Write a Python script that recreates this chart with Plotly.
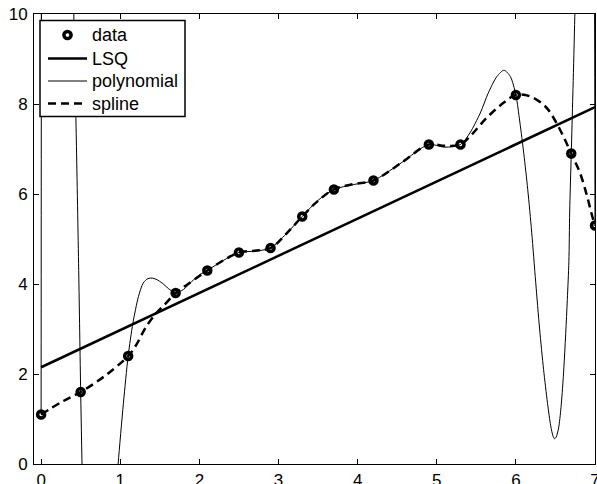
import plotly.graph_objects as go

# ---- data ----
x_data = [0.0, 0.5, 1.1, 1.7, 2.1, 2.5, 2.9, 3.3, 3.7, 4.2, 4.9, 5.3, 6.0, 6.7, 7.0]
y_data = [1.1, 1.6, 2.4, 3.8, 4.3, 4.7, 4.8, 5.5, 6.1, 6.3, 7.1, 7.1, 8.2, 6.9, 5.3]

lsq_x = [0.0, 7.0]
lsq_y = [2.15, 7.93]

poly_x = [0.0, 0.003, 0.01, 0.1, 0.25, 0.37, 0.40, 0.413, 0.445, 0.475, 0.50, 0.525, 0.56,
          0.7, 0.8, 0.9, 0.93, 0.973, 1.04, 1.10, 1.16, 1.23, 1.29, 1.35, 1.41, 1.47, 1.53,
          1.63, 1.70, 1.80, 1.90, 2.0, 2.1, 2.3, 2.5, 2.7, 2.9, 3.1, 3.3, 3.5, 3.7, 3.95,
          4.2, 4.55, 4.9, 5.1, 5.3, 5.42, 5.55, 5.65, 5.76, 5.85, 5.93, 6.0, 6.05, 6.10,
          6.15, 6.20, 6.25, 6.30, 6.35, 6.40, 6.44, 6.47, 6.49, 6.51, 6.54, 6.57, 6.60,
          6.63, 6.65, 6.67, 6.68, 6.70, 6.72, 6.74, 6.76, 6.80, 6.88, 6.96, 6.995, 7.0]
poly_y = [1.1, 10.5, 25.0, 60.0, 70.0, 22.0, 12.5, 10.0, 7.2, 4.3, 1.6, -0.8, -4.5,
          -14.0, -8.0, -2.0, -1.0, 0.0, 1.35, 2.4, 3.13, 3.72, 4.02, 4.12, 4.13, 4.09, 4.02,
          3.87, 3.8, 3.88, 4.05, 4.2, 4.3, 4.52, 4.7, 4.73, 4.8, 5.12, 5.5, 5.86, 6.1, 6.21,
          6.3, 6.69, 7.1, 7.04, 7.1, 7.36, 7.80, 8.24, 8.61, 8.75, 8.61, 8.2, 7.6, 6.9,
          6.1, 5.15, 4.05, 3.0, 2.1, 1.35, 0.85, 0.62, 0.56, 0.6, 0.8, 1.25, 1.95,
          2.9, 3.65, 4.5, 5.6, 6.9, 8.2, 9.6, 11.2, 16.0, 30.0, 25.0, 10.0, 5.3]

spline_x = [0.0, 0.25, 0.5, 0.8, 1.1, 1.19, 1.33, 1.46, 1.56, 1.7, 1.84, 2.0, 2.1, 2.3,
            2.5, 2.7, 2.9, 3.1, 3.3, 3.5, 3.7, 3.95, 4.2, 4.55, 4.9, 5.1, 5.3, 5.42, 5.63,
            5.84, 6.0, 6.18, 6.37, 6.49, 6.6, 6.7, 6.81, 6.9, 6.96, 7.0]
spline_y = [1.1, 1.37, 1.6, 1.95, 2.4, 2.61, 3.06, 3.36, 3.54, 3.8, 3.98, 4.18, 4.3, 4.52,
            4.7, 4.74, 4.8, 5.12, 5.5, 5.85, 6.1, 6.22, 6.3, 6.69, 7.1, 7.07, 7.1, 7.28, 7.69,
            8.02, 8.2, 8.17, 7.95, 7.65, 7.28, 6.9, 6.47, 5.95, 5.54, 5.3]

x_ticks = [0, 1, 2, 3, 4, 5, 6, 7]
y_ticks = [0, 2, 4, 6, 8, 10]

legend_names = ["data", "LSQ", "polynomial", "spline"]

FONT = "Liberation Sans, Arial, Helvetica, sans-serif"
BLACK = "black"
SPLINE_DASH = "8px,5px"

# figure geometry (pixels)
W, H = 597, 484
ML, MR, MT, MB = 34, 2, 14, 20
PW, PH = W - ML - MR, H - MT - MB


def px(xp):
    return (xp - ML) / PW


def py(yp):
    return (H - MB - yp) / PH


fig = go.Figure()
fig.add_trace(go.Scatter(
    x=x_data, y=y_data, mode="markers", name=legend_names[0], showlegend=False,
    marker=dict(symbol="circle-open", size=7, color=BLACK, line=dict(width=3.5, color=BLACK)),
))
fig.add_trace(go.Scatter(
    x=lsq_x, y=lsq_y, mode="lines", name=legend_names[1], showlegend=False,
    line=dict(color=BLACK, width=2.5),
))
fig.add_trace(go.Scatter(
    x=poly_x, y=poly_y, mode="lines", name=legend_names[2], showlegend=False,
    line=dict(color=BLACK, width=1, shape="spline", smoothing=0.8),
))
fig.add_trace(go.Scatter(
    x=spline_x, y=spline_y, mode="lines", name=legend_names[3], showlegend=False,
    line=dict(color=BLACK, width=2.5, dash=SPLINE_DASH, shape="spline", smoothing=1),
))

axis_common = dict(
    showgrid=False, zeroline=False, showline=True, linecolor=BLACK, linewidth=1,
    ticks="inside", ticklen=5, tickwidth=1, tickcolor=BLACK, mirror="allticks",
    tickfont=dict(family=FONT, size=17, color=BLACK), automargin=False,
    ticklabeloverflow="allow",
)
fig.update_xaxes(range=[-0.09, 7.0], tickvals=x_ticks, ticktext=[str(v) for v in x_ticks],
                 ticklabelstandoff=1, **axis_common)
fig.update_yaxes(range=[0, 10], tickvals=y_ticks, ticktext=[str(v) for v in y_ticks],
                 ticklabelstandoff=2, **axis_common)

# ---- MATLAB-style legend box drawn in paper coordinates ----
box_l, box_r, box_t, box_b = 40, 185, 20.5, 116.5
row_y = [35, 58.5, 81, 103.5]
samp_l, samp_r = 48, 87
text_x = 90

shapes = [dict(type="rect", xref="paper", yref="paper",
               x0=px(box_l), x1=px(box_r), y0=py(box_b), y1=py(box_t),
               fillcolor="white", line=dict(color=BLACK, width=1.5), layer="above")]
# data marker sample
cx, r = (samp_l + samp_r) / 2, 3.6
shapes.append(dict(type="circle", xref="paper", yref="paper",
                   x0=px(cx - r), x1=px(cx + r), y0=py(row_y[0] + r), y1=py(row_y[0] - r),
                   fillcolor="white", line=dict(color=BLACK, width=3.5), layer="above"))
# line samples
for i, (w, d) in zip([1, 2, 3], [(2.5, "solid"), (1, "solid"), (2.5, SPLINE_DASH)]):
    shapes.append(dict(type="line", xref="paper", yref="paper",
                       x0=px(samp_l), x1=px(samp_r), y0=py(row_y[i]), y1=py(row_y[i]),
                       line=dict(color=BLACK, width=w, dash=d), layer="above"))

annotations = [dict(xref="paper", yref="paper", x=px(text_x), y=py(row_y[i]),
                    xanchor="left", yanchor="middle", showarrow=False, text=name,
                    font=dict(family=FONT, size=18, color=BLACK))
               for i, name in enumerate(legend_names)]

fig.update_layout(
    width=W, height=H,
    margin=dict(l=ML, r=MR, t=MT, b=MB),
    paper_bgcolor="white", plot_bgcolor="white",
    font=dict(family=FONT, size=17, color=BLACK),
    showlegend=False,
    shapes=shapes,
    annotations=annotations,
)

fig.write_html(
    "out.html",
    config={"displayModeBar": False},
    post_script="document.body.style.margin='0';document.body.style.overflow='hidden';",
)
